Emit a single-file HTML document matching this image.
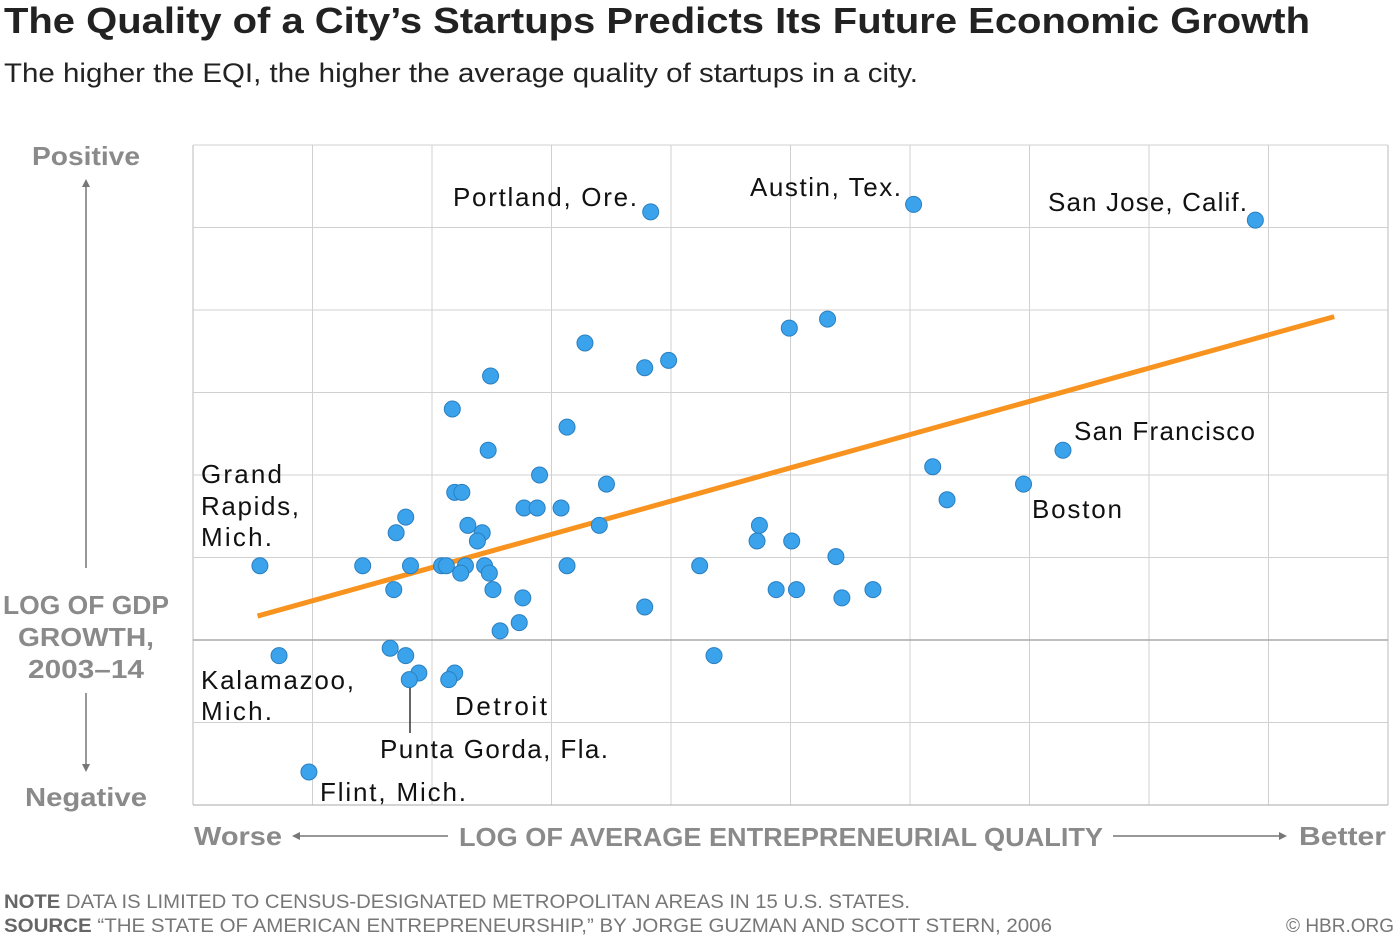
<!DOCTYPE html>
<html><head><meta charset="utf-8"><style>
html,body{margin:0;padding:0;background:#fff;}
svg{display:block;font-family:"Liberation Sans",sans-serif;}
</style></head><body>
<svg id="chart" width="1400" height="937" viewBox="0 0 1400 937">
<text x="4" y="33" font-size="36" font-weight="bold" fill="#222" textLength="1306" lengthAdjust="spacingAndGlyphs">The Quality of a City’s Startups Predicts Its Future Economic Growth</text>
<text x="4" y="82" font-size="27" fill="#222" textLength="914" lengthAdjust="spacingAndGlyphs">The higher the EQI, the higher the average quality of startups in a city.</text>
<g id="grid"></g>
<g id="trend"></g>
<g id="dots"></g>
<g font-size="26" fill="#111" lengthAdjust="spacingAndGlyphs">
<text x="453" y="206" textLength="184">Portland, Ore.</text>
<text x="750" y="196" textLength="151">Austin, Tex.</text>
<text x="1048" y="211" textLength="199">San Jose, Calif.</text>
<text x="1074" y="440" textLength="181">San Francisco</text>
<text x="1032" y="518" textLength="90">Boston</text>
<text x="201" y="483" textLength="81">Grand</text>
<text x="201" y="515" textLength="98">Rapids,</text>
<text x="201" y="546" textLength="71">Mich.</text>
<text x="201" y="689" textLength="153">Kalamazoo,</text>
<text x="201" y="720" textLength="71">Mich.</text>
<text x="455" y="715" textLength="92">Detroit</text>
<text x="380" y="758" textLength="228">Punta Gorda, Fla.</text>
<text x="320" y="801" textLength="146">Flint, Mich.</text>
<line x1="410" y1="688" x2="410" y2="733" stroke="#333" stroke-width="1.5"/>
</g>
<g font-size="26" font-weight="bold" fill="#8a8a8a" text-anchor="middle">
<text x="86" y="165" textLength="108" lengthAdjust="spacingAndGlyphs">Positive</text>
<text x="86" y="806" textLength="122" lengthAdjust="spacingAndGlyphs">Negative</text>
<text x="86" y="614" textLength="166" lengthAdjust="spacingAndGlyphs">LOG OF GDP</text>
<text x="86" y="646" textLength="136" lengthAdjust="spacingAndGlyphs">GROWTH,</text>
<text x="86" y="678" textLength="116" lengthAdjust="spacingAndGlyphs">2003–14</text>
<line x1="86" y1="185" x2="86" y2="568" stroke="#777" stroke-width="1.5"/>
<path d="M82 187 L86 179 L90 187 Z" fill="#777"/>
<line x1="86" y1="693" x2="86" y2="766" stroke="#777" stroke-width="1.5"/>
<path d="M82 764 L86 772 L90 764 Z" fill="#777"/>
</g>
<g font-size="26" font-weight="bold" fill="#8a8a8a">
<text x="194" y="845" textLength="88" lengthAdjust="spacingAndGlyphs">Worse</text>
<text x="1299" y="845" textLength="87" lengthAdjust="spacingAndGlyphs">Better</text>
<text x="459" y="846" textLength="644" lengthAdjust="spacingAndGlyphs">LOG OF AVERAGE ENTREPRENEURIAL QUALITY</text>
<line x1="296" y1="836" x2="448" y2="836" stroke="#777" stroke-width="1.5"/>
<path d="M300 832 L292 836 L300 840 Z" fill="#777"/>
<line x1="1113" y1="836" x2="1282" y2="836" stroke="#777" stroke-width="1.5"/>
<path d="M1279 832 L1287 836 L1279 840 Z" fill="#777"/>
</g>
<g font-size="19" fill="#777">
<text x="4" y="908" textLength="906" lengthAdjust="spacingAndGlyphs"><tspan font-weight="bold" fill="#666">NOTE</tspan> DATA IS LIMITED TO CENSUS-DESIGNATED METROPOLITAN AREAS IN 15 U.S. STATES.</text>
<text x="4" y="932" textLength="1048" lengthAdjust="spacingAndGlyphs"><tspan font-weight="bold" fill="#666">SOURCE</tspan> “THE STATE OF AMERICAN ENTREPRENEURSHIP,” BY JORGE GUZMAN AND SCOTT STERN, 2006</text>
<text x="1394" y="932" text-anchor="end">© HBR.ORG</text>
</g>
</svg>
<script>
const xVals=[3.83,6.03,8.89,5.31,4.99,3.28,3.98,3.78,2.49,2.17,3.13,2.47,7.28,6.19,2.90,2.19,2.25,3.46,6.95,6.31,1.78,2.77,2.88,3.08,2.30,2.42,3.40,4.74,1.70,2.38,4.72,5.01,5.38,0.56,1.42,1.82,2.08,2.12,2.28,2.44,3.13,4.24,2.24,2.48,1.68,2.51,4.88,5.05,5.69,2.76,5.43,3.78,2.73,2.57,1.65,0.72,1.78,4.36,1.89,2.19,1.81,2.14,0.97];
const yVals=[7.19,7.28,7.09,5.89,5.78,5.60,5.39,5.30,5.20,4.80,4.58,4.30,4.30,4.10,4.00,3.79,3.79,3.89,3.89,3.70,3.49,3.60,3.60,3.60,3.39,3.30,3.39,3.39,3.30,3.20,3.20,3.20,3.01,2.90,2.90,2.90,2.90,2.90,2.90,2.90,2.90,2.90,2.81,2.81,2.61,2.61,2.61,2.61,2.61,2.51,2.51,2.40,2.21,2.11,1.90,1.81,1.81,1.81,1.60,1.60,1.52,1.52,0.40];
const trendX=[0.54,9.55];
const trendY=[2.29,5.92];
const xTicks=[0,1,2,3,4,5,6,7,8,9,10];
const yTicks=[0,1,2,3,4,5,6,7,8];
const L=193,R=1388,T=145,B=805;
const sx=v=>L+(R-L)*v/10;
const sy=v=>B-(B-T)*v/8;
const NS="http://www.w3.org/2000/svg";
const grid=document.getElementById('grid');
xTicks.forEach(t=>{const l=document.createElementNS(NS,'line');


l.setAttribute('x1',sx(t));l.setAttribute('x2',sx(t));l.setAttribute('y1',T);l.setAttribute('y2',B);
l.setAttribute('stroke',(t===0||t===10)?'#bbb':'#d0d0d0');l.setAttribute('stroke-width','1');grid.appendChild(l);});
yTicks.forEach(t=>{const l=document.createElementNS(NS,'line');


l.setAttribute('x1',L);l.setAttribute('x2',R);l.setAttribute('y1',sy(t));l.setAttribute('y2',sy(t));
l.setAttribute('stroke',(t===0||t===2)?'#aaa':'#d0d0d0');l.setAttribute('stroke-width',t===2?'1.5':'1');grid.appendChild(l);});
const tl=document.createElementNS(NS,'line');


tl.setAttribute('x1',sx(trendX[0]));tl.setAttribute('y1',sy(trendY[0]));
tl.setAttribute('x2',sx(trendX[1]));tl.setAttribute('y2',sy(trendY[1]));
tl.setAttribute('stroke','#f7931e');tl.setAttribute('stroke-width','5');
document.getElementById('trend').appendChild(tl);
const dots=document.getElementById('dots');
xVals.forEach((x,i)=>{const c=document.createElementNS(NS,'circle');


c.setAttribute('cx',sx(x));c.setAttribute('cy',sy(yVals[i]));c.setAttribute('r','8');
c.setAttribute('fill','#3aa3ec');c.setAttribute('stroke','#2b7fc0');c.setAttribute('stroke-width','1');
dots.appendChild(c);});
</script>
</body></html>
